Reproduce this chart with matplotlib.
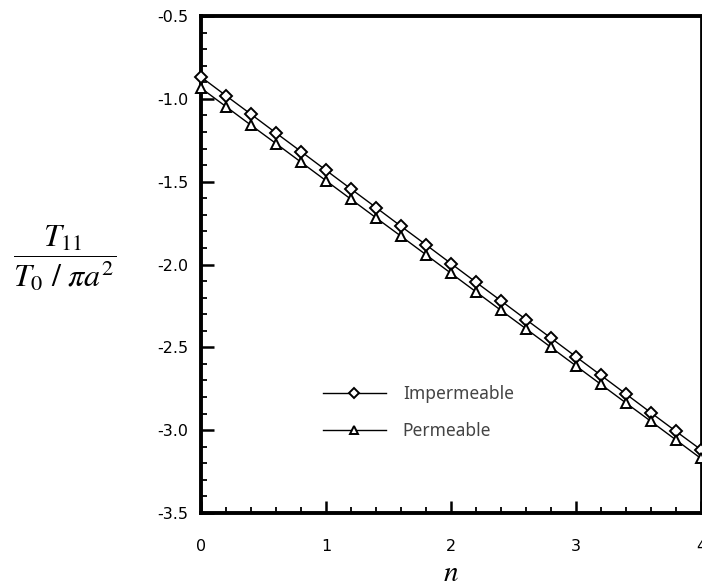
import numpy as np
import matplotlib
matplotlib.use("Agg")
import matplotlib.pyplot as plt
from matplotlib.ticker import MultipleLocator

plt.rcParams['mathtext.fontset'] = 'stix'

n = [0.0, 0.2, 0.4, 0.6, 0.8, 1.0, 1.2, 1.4, 1.6, 1.8, 2.0,
     2.2, 2.4, 2.6, 2.8, 3.0, 3.2, 3.4, 3.6, 3.8, 4.0]
impermeable = [-0.868, -0.981, -1.093, -1.206, -1.318, -1.431, -1.544,
               -1.656, -1.769, -1.881, -1.994, -2.107, -2.219, -2.332,
               -2.444, -2.557, -2.669, -2.782, -2.895, -3.007, -3.118]
permeable = [-0.935, -1.047, -1.159, -1.270, -1.382, -1.494, -1.606,
             -1.718, -1.829, -1.941, -2.053, -2.165, -2.277, -2.388,
             -2.500, -2.612, -2.724, -2.836, -2.947, -3.059, -3.171]
xticks = [0, 1, 2, 3, 4]
yticks = [-3.5, -3.0, -2.5, -2.0, -1.5, -1.0, -0.5]

fig = plt.figure(figsize=(7.02, 5.88), dpi=100)
ax = fig.add_axes([201/702, 1-513/588, 500/702, 497/588])

ax.plot(n, impermeable, color='black', lw=1.0, marker='D', ms=6,
        mfc='white', mec='black', mew=1.4, label='Impermeable', clip_on=False, zorder=3)
ax.plot(n, permeable, color='black', lw=1.0, marker='^', ms=6.5,
        mfc='white', mec='black', mew=1.4, label='Permeable', clip_on=False, zorder=3)

ax.set_xlim(0, 4)
ax.set_ylim(-3.5, -0.5)
ax.set_xticks(xticks)
ax.set_xticklabels([str(v) for v in xticks])
ax.set_yticks(yticks)
ax.set_yticklabels(['%.1f' % v for v in yticks])
ax.xaxis.set_minor_locator(MultipleLocator(0.2))
ax.yaxis.set_minor_locator(MultipleLocator(0.1))

ax.tick_params(which='major', direction='in', length=9, width=1.8,
               top=False, right=False, labelsize=11.5)
ax.tick_params(which='minor', direction='in', length=4, width=1.3,
               top=False, right=False)
ax.tick_params(axis='y', which='major', pad=9)
ax.tick_params(axis='x', which='major', pad=19)

for s in ['left', 'bottom', 'top']:
    ax.spines[s].set_linewidth(2.8)
ax.spines['right'].set_linewidth(2.0)

leg = ax.legend(loc='center left', bbox_to_anchor=(0.244, 0.202),
                frameon=False, handlelength=3.6, markerscale=0.85,
                handletextpad=1.0, labelspacing=1.1, borderpad=0,
                borderaxespad=0, prop={'family': 'Noto Sans', 'size': 12.5})
for t in leg.get_texts():
    t.set_color('#444444')

fig.text(65/702, 1-258/588, r'$\dfrac{T_{11}}{T_0\ /\ \pi a^2}$',
         fontsize=23, ha='center', va='center')
fig.text(451/702, 1-573/588, r'$n$', fontsize=21, ha='center', va='center')

fig.savefig('out.png', dpi=100)
